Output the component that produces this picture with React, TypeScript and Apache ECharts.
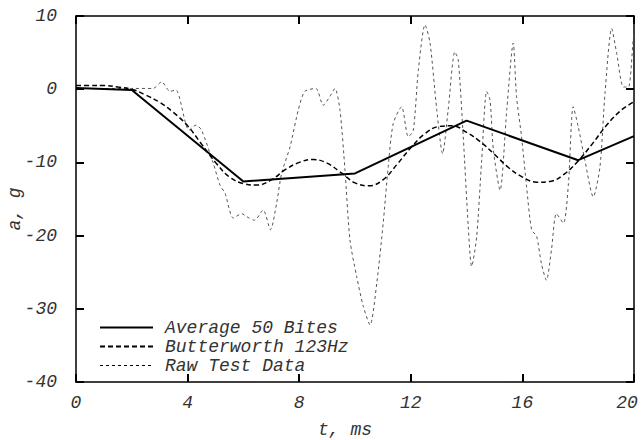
import React, { useEffect, useRef } from "react";
import * as echarts from "echarts";

const seriesNames = ["Average 50 Bites", "Butterworth 123Hz", "Raw Test Data"];
const xTitle = "t, ms";
const yTitle = "a, g";
const xTicks = [0, 4, 8, 12, 16, 20];
const yTicks = [10, 0, -10, -20, -30, -40];

const avgT = [0, 2, 6, 10, 14, 18, 20];
const avgA = [0.15, -0.1, -12.6, -11.5, -4.3, -9.7, -6.4];

const bwT = [0, 0.5, 1, 1.5, 2, 2.5, 3, 3.5, 4, 4.5, 5, 5.5, 6, 6.5, 7, 7.5, 8, 8.5, 9, 9.5, 10, 10.5, 11, 11.5, 12, 12.5, 13, 13.5, 14, 14.5, 15, 15.5, 16, 16.5, 17, 17.5, 18, 18.5, 19, 19.5, 20];
const bwA = [0.5, 0.5, 0.5, 0.3, 0, -0.8, -1.8, -3.2, -5, -7.5, -10, -12, -12.9, -13.1, -12.4, -11, -10, -9.6, -10.1, -11.4, -12.8, -13.2, -12.4, -10.3, -8, -6.1, -5.1, -5, -5.9, -7.2, -8.9, -10.7, -12, -12.7, -12.6, -11.6, -9.8, -7.5, -5, -3, -1.7];

const rawT = [0, 1, 2, 2.76, 3.07, 3.37, 3.58, 4.05, 4.3, 4.5, 4.92, 5.16, 5.34, 5.64, 5.94, 6.11, 6.4, 6.71, 6.97, 7.19, 7.37, 7.67, 7.97, 8.2, 8.6, 8.86, 9.1, 9.28, 9.46, 9.64, 9.82, 10.06, 10.3, 10.54, 10.78, 11.01, 11.19, 11.37, 11.67, 11.91, 12.09, 12.27, 12.51, 12.69, 12.93, 13.14, 13.34, 13.58, 13.7, 13.88, 14.06, 14.18, 14.36, 14.54, 14.72, 14.84, 14.96, 15.2, 15.44, 15.67, 15.79, 15.97, 16.15, 16.33, 16.51, 16.68, 16.86, 17.04, 17.22, 17.47, 17.65, 17.82, 18.0, 18.24, 18.54, 18.78, 18.96, 19.2, 19.38, 19.62, 19.8, 19.97, 20];
const rawA = [0.1, 0.1, 0.1, 0.1, 1.0, -0.3, -0.1, -5.6, -4.9, -5.6, -10.1, -13.1, -14.2, -17.6, -17.0, -17.4, -17.9, -16.5, -19.2, -15.6, -11.5, -7.9, -2.8, -0.3, 0.1, -2.2, -1.0, 0.1, -2.8, -11.0, -20.6, -25.6, -29.7, -32.2, -26.5, -18.3, -10.6, -4.7, -2.4, -6.5, -5.6, 2.6, 8.8, 6.3, -2.8, -8.8, -2.8, 5.1, 4.0, -6.5, -18.8, -24.2, -20.2, -9.7, -0.3, -1.5, -8.3, -13.8, -2.8, 6.3, -1.0, -6.5, -13.3, -19.2, -20.1, -23.8, -26.1, -22.0, -17.0, -18.3, -12.9, -2.4, -5.1, -9.7, -14.7, -10.6, -0.6, 8.3, 4.9, 0.3, 0.3, 6.7, 7.6];

const FONT = "'Liberation Mono', 'DejaVu Sans Mono', monospace";
const TXT = "#333";

export default function App() {
  const ref = useRef<HTMLDivElement>(null);
  useEffect(() => {
    if (!ref.current) return;
    const chart = echarts.init(ref.current, undefined, { renderer: "svg" });
    const zip = (xs: number[], ys: number[]) => xs.map((x, i) => [x, ys[i]]);
    const lineStyles = [
      { color: "#000", width: 2, type: "solid" as const },
      { color: "#000", width: 1.5, type: [5, 3] as any },
      { color: "#555", width: 1, type: [3, 3] as any },
    ];
    const graphics: any[] = [];
    seriesNames.forEach((name, i) => {
      const y = 327.5 + i * 19;
      graphics.push({
        type: "line",
        shape: { x1: 100, y1: y, x2: 153, y2: y },
        style: { stroke: "#000", lineWidth: i === 2 ? 1 : 2, lineDash: i === 0 ? null : (i === 1 ? [5, 3] : [3, 3]) },
        z: 100,
      });
      graphics.push({
        type: "text",
        x: 165,
        y: y,
        style: { text: name, font: `italic 18px ${FONT}`, fill: TXT, verticalAlign: "middle" },
        z: 100,
      });
    });
    graphics.push({
      type: "text", x: 345, y: 430,
      style: { text: xTitle, font: `italic 18px ${FONT}`, fill: TXT, align: "center", verticalAlign: "middle" },
    });
    graphics.push({
      type: "text", x: 15, y: 209, rotation: Math.PI / 2,
      style: { text: yTitle, font: `italic 18px ${FONT}`, fill: TXT, align: "center", verticalAlign: "middle" },
    });
    const axisLine = { show: true, onZero: false, lineStyle: { color: "#000", width: 1.5 } };
    const axisTick = { show: true, inside: true, length: 8, lineStyle: { color: "#000", width: 2 } };
    const xMax = xTicks[xTicks.length - 1];
    chart.setOption({
      animation: false,
      backgroundColor: "#fff",
      grid: { left: 76, right: 8, top: 16, bottom: 58, show: false, containLabel: false, outerBoundsMode: "none" },
      xAxis: [
        {
          type: "value", min: 0, max: 20, interval: 4, position: "bottom",
          axisLine, axisTick,
          axisLabel: {
            margin: 12, fontFamily: FONT, fontStyle: "italic", fontSize: 18, color: TXT,
            formatter: (v: number) => (v === xMax ? `{m|${v}}` : xTicks.includes(v) ? String(v) : ""),
            rich: { m: { fontFamily: FONT, fontStyle: "italic", fontSize: 18, color: TXT, padding: [0, 14, 0, 0] } },
          },
          splitLine: { show: false },
        },
        {
          type: "value", min: 0, max: 20, interval: 4, position: "top",
          axisLine, axisTick,
          axisLabel: { show: false }, splitLine: { show: false },
        },
      ],
      yAxis: [
        {
          type: "value", min: -40, max: 10, interval: 10, position: "left",
          axisLine, axisTick,
          axisLabel: { margin: 19, fontFamily: FONT, fontStyle: "italic", fontSize: 18, color: TXT, formatter: (v: number) => (yTicks.includes(v) ? String(v) : "") },
          splitLine: { show: false },
        },
        {
          type: "value", min: -40, max: 10, interval: 10, position: "right",
          axisLine, axisTick,
          axisLabel: { show: false }, splitLine: { show: false },
        },
      ],
      series: [
        {
          name: seriesNames[2], type: "line", data: zip(rawT, rawA), smooth: 0.25, showSymbol: false, symbol: "none",
          lineStyle: lineStyles[2], z: 1,
        },
        {
          name: seriesNames[1], type: "line", data: zip(bwT, bwA), smooth: 0.4, showSymbol: false, symbol: "none",
          lineStyle: lineStyles[1], z: 2,
        },
        {
          name: seriesNames[0], type: "line", data: zip(avgT, avgA), showSymbol: false, symbol: "none",
          lineStyle: lineStyles[0], z: 3,
        },
      ],
      graphic: graphics,
    });
    return () => chart.dispose();
  }, []);
  return <div ref={ref} style={{ position: "fixed", left: 0, top: 0, width: 642, height: 440 }} />;
}
